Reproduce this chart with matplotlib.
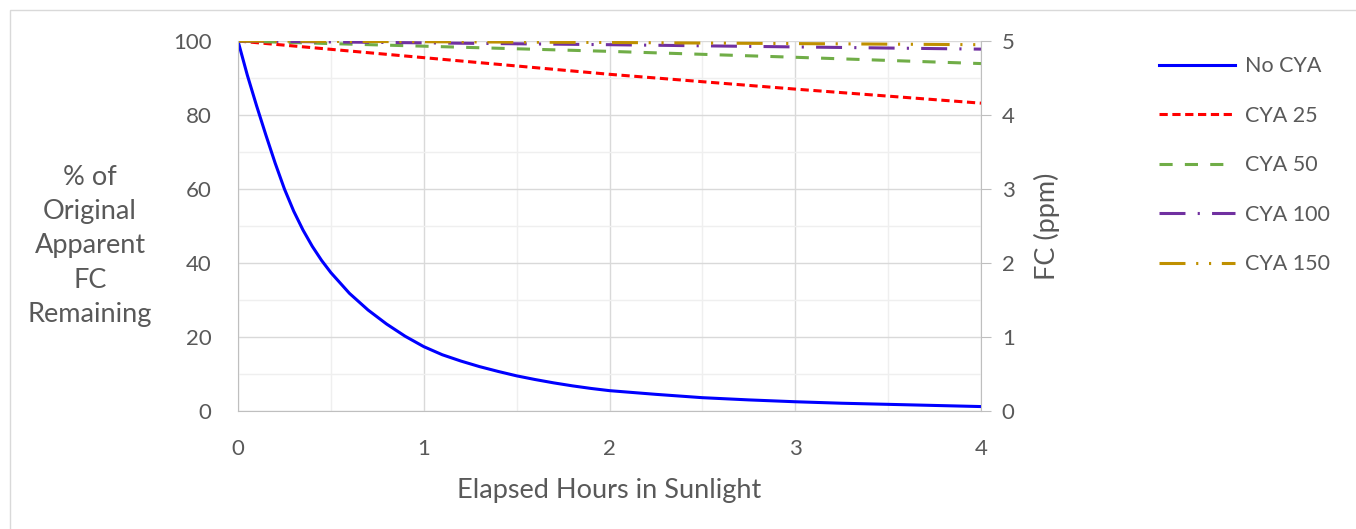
import numpy as np
import matplotlib.pyplot as plt
from matplotlib.patches import Rectangle
from matplotlib.ticker import MultipleLocator

# hours of sunlight and % of original FC remaining
hours_fast = [0, 0.05, 0.1, 0.15, 0.2, 0.25, 0.3, 0.35, 0.4, 0.45, 0.5, 0.6, 0.7, 0.8, 0.9,
              1.0, 1.1, 1.2, 1.3, 1.4, 1.5, 1.6, 1.7, 1.8, 1.9, 2.0,
              2.25, 2.5, 2.75, 3.0, 3.25, 3.5, 3.75, 4.0]
no_cya = [100, 90.8, 82.5, 74.6, 67.0, 60.0, 54.0, 48.9, 44.5, 40.7, 37.4, 31.8, 27.3, 23.5, 20.2,
          17.4, 15.2, 13.5, 12, 10.7, 9.5, 8.5, 7.6, 6.8, 6.1, 5.5,
          4.5, 3.6, 3.0, 2.5, 2.1, 1.8, 1.5, 1.2]

hours = [0, 1, 2, 3, 4]
cya_25 = [100, 95.5, 91.0, 87.0, 83.2]
cya_50 = [100, 98.6, 97.2, 95.6, 93.9]
cya_100 = [100, 99.5, 99.0, 98.4, 97.8]
cya_150 = [100, 99.8, 99.6, 99.3, 99.0]

plt.rcParams['font.family'] = ['Lato', 'DejaVu Sans']
grey = '#595959'

fig = plt.figure(figsize=(13.56, 5.29), dpi=100)
ax = fig.add_axes([238 / 1356, 1 - 411 / 529, 743 / 1356, 370 / 529])

ax.plot(hours_fast, no_cya, color='#0000ff', lw=2.2, label='No CYA')
ax.plot(hours, cya_25, color='#ff0000', lw=2.2, ls=(0, (2.7, 1.5)), label='CYA 25')
ax.plot(hours, cya_50, color='#70ad47', lw=2.2, ls=(0, (4.3, 4)), label='CYA 50')
ax.plot(hours, cya_100, color='#7030a0', lw=2.2, ls=(0, (8.5, 4, 0.7, 4)), label='CYA 100')
ax.plot(hours, cya_150, color='#bf9000', lw=2.2, ls=(0, (8.5, 3.5, 0.7, 3.5, 0.7, 3.5)),
        label='CYA 150')

ax.set_xlim(0, 4)
ax.set_ylim(0, 100)
ax.xaxis.set_major_locator(MultipleLocator(1))
ax.xaxis.set_minor_locator(MultipleLocator(0.5))
ax.yaxis.set_major_locator(MultipleLocator(20))
ax.yaxis.set_minor_locator(MultipleLocator(10))
ax.grid(which='major', color='#d9d9d9', lw=1)
ax.grid(which='minor', color='#efefef', lw=1)
ax.set_axisbelow(True)
ax.tick_params(which='both', length=0, labelsize=16, colors=grey)
ax.tick_params(axis='x', pad=20)
ax.tick_params(axis='y', pad=19)
for side in ['top', 'right']:
    ax.spines[side].set_visible(False)
for side in ['left', 'bottom']:
    ax.spines[side].set_color('#bfbfbf')

ax.set_xlabel('Elapsed Hours in Sunlight', fontsize=19.5, color=grey, labelpad=14)
fig.text(90 / 1356, 1 - 246 / 529, '% of\nOriginal\nApparent\nFC\nRemaining',
         ha='center', va='center', fontsize=19.5, color=grey, linespacing=1.47)

# right axis in ppm
ax2 = ax.twinx()
ax2.set_ylim(0, 5)
ax2.yaxis.set_major_locator(MultipleLocator(1))
ax2.tick_params(axis='y', length=7, color='#bfbfbf', labelsize=16, labelcolor=grey, pad=8)
for side in ['top', 'left', 'bottom']:
    ax2.spines[side].set_visible(False)
ax2.spines['right'].set_color('#bfbfbf')
ax2.set_ylabel('FC (ppm)', fontsize=19.5, color=grey, labelpad=14)

leg = ax.legend(loc='upper left', bbox_to_anchor=(1140 / 1356, 1 - 37 / 529),
                bbox_transform=fig.transFigure, frameon=False, fontsize=15.5,
                handlelength=3.5, labelspacing=1.37, handletextpad=0.47)
for t in leg.get_texts():
    t.set_color(grey)

fig.patches.append(Rectangle((10 / 1356, -0.05), 1.05, 1 - 10 / 529 + 0.05,
                             transform=fig.transFigure, fill=False,
                             edgecolor='#d9d9d9', lw=1))

fig.savefig('out.png', dpi=100)
